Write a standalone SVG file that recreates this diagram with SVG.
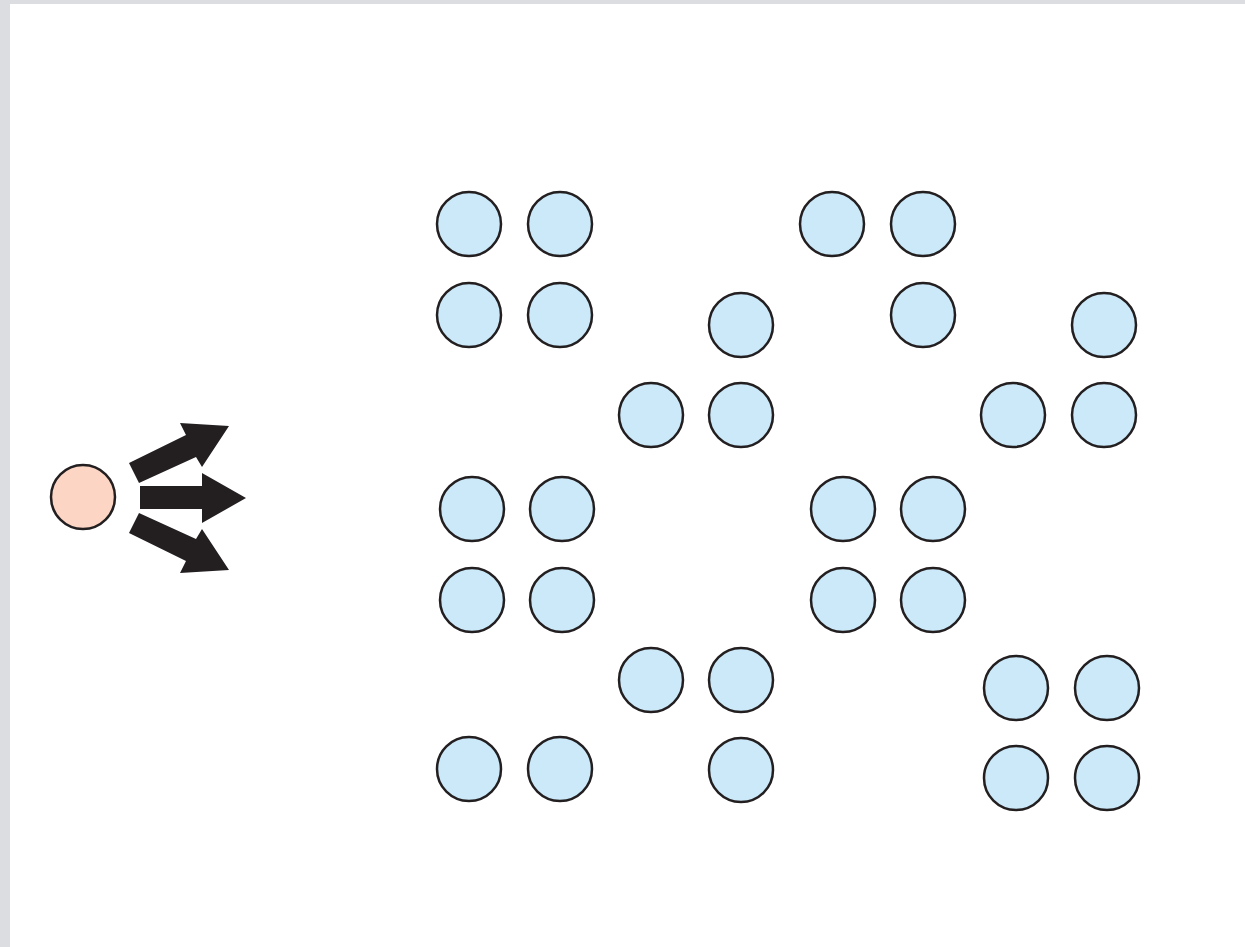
<svg xmlns="http://www.w3.org/2000/svg" width="1245" height="947" viewBox="0 0 1245 947">
<style>
.c{fill:#cbe9f9;stroke:#231f20;stroke-width:2.5}
.p{fill:#fdd5c4;stroke:#231f20;stroke-width:2.5}
.a{fill:#231f20}
</style>
<rect x="0" y="0" width="1245" height="947" fill="#ffffff"/>
<rect x="0" y="0" width="1245" height="4" fill="#dcdde0"/>
<rect x="0" y="0" width="10" height="947" fill="#dcdde0"/>
<g id="source"><circle class="p" cx="83" cy="497" r="32"/></g>
<g id="arrows">
<polygon class="a" points="129,463 186,435 180,423 229,426 202,467 196,457 139,483"/>
<polygon class="a" points="140,486 202,486 202,473 246,498 202,523 202,509 140,509"/>
<polygon class="a" points="129,533 186,561 180,573 229,570 202,529 196,539 139,513"/>
</g>
<g id="particles">
<circle class="c" cx="469" cy="224" r="32"/>
<circle class="c" cx="560" cy="224" r="32"/>
<circle class="c" cx="832" cy="224" r="32"/>
<circle class="c" cx="923" cy="224" r="32"/>
<circle class="c" cx="469" cy="315" r="32"/>
<circle class="c" cx="560" cy="315" r="32"/>
<circle class="c" cx="741" cy="325" r="32"/>
<circle class="c" cx="923" cy="315" r="32"/>
<circle class="c" cx="1104" cy="325" r="32"/>
<circle class="c" cx="651" cy="415" r="32"/>
<circle class="c" cx="741" cy="415" r="32"/>
<circle class="c" cx="1013" cy="415" r="32"/>
<circle class="c" cx="1104" cy="415" r="32"/>
<circle class="c" cx="472" cy="509" r="32"/>
<circle class="c" cx="562" cy="509" r="32"/>
<circle class="c" cx="843" cy="509" r="32"/>
<circle class="c" cx="933" cy="509" r="32"/>
<circle class="c" cx="472" cy="600" r="32"/>
<circle class="c" cx="562" cy="600" r="32"/>
<circle class="c" cx="843" cy="600" r="32"/>
<circle class="c" cx="933" cy="600" r="32"/>
<circle class="c" cx="651" cy="680" r="32"/>
<circle class="c" cx="741" cy="680" r="32"/>
<circle class="c" cx="1016" cy="688" r="32"/>
<circle class="c" cx="1107" cy="688" r="32"/>
<circle class="c" cx="469" cy="769" r="32"/>
<circle class="c" cx="560" cy="769" r="32"/>
<circle class="c" cx="741" cy="770" r="32"/>
<circle class="c" cx="1016" cy="778" r="32"/>
<circle class="c" cx="1107" cy="778" r="32"/>
</g>
</svg>
